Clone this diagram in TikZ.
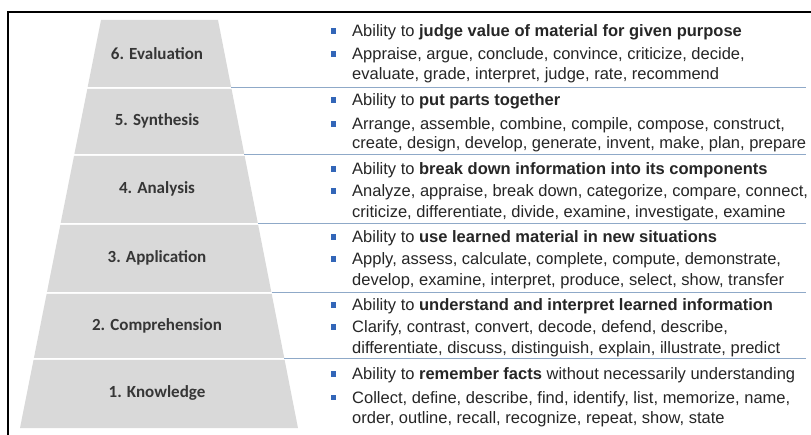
\documentclass[tikz,border=0pt]{standalone}
\usepackage{fontspec}
\setmainfont{Liberation Sans}
\newfontfamily\labfont{Carlito}
\definecolor{layerfill}{HTML}{D9D9D9}
\definecolor{labeltext}{HTML}{363636}
\definecolor{bodytext}{HTML}{262626}
\definecolor{sepline}{HTML}{8FA9C8}
\definecolor{bulletblue}{HTML}{3366B8}
\begin{document}
\begin{tikzpicture}[x=1pt,y=-1pt,
  levellabel/.style={font=\labfont\bfseries\fontsize{17}{19}\selectfont, text=labeltext, inner sep=0pt},
  bodyline/.style={anchor=base west, font=\fontsize{16.5}{18}\selectfont, text=bodytext, inner sep=0pt},
  bulletsq/.style={fill=bulletblue},
  sepstyle/.style={draw=sepline, line width=1pt}]
\useasboundingbox (0,0) rectangle (811,435);
\fill[white] (0,0) rectangle (811,435);
% outer frame (top and left edges)
\draw[line width=1.4pt] (8,435) -- (8,12) -- (811,12);

% pyramid layers
\foreach \t/\b in {20/87, 89/154, 156/223, 225/292, 294/358, 360/428} {
  \fill[layerfill] ({101-0.1985*(\t-20)},\t) -- ({218+0.196*(\t-20)},\t)
    -- ({218+0.196*(\b-20)},\b) -- ({101-0.1985*(\b-20)},\b) -- cycle;
}
% separators running right from the pyramid edge
\foreach \y in {88,155,224,293,359} {
  \coordinate (s\y) at ({218+0.196*(\y-20)},\y);
  \coordinate (e\y) at (806,\y);
  \draw[sepstyle] (s\y) -- (e\y);
}

% level labels
\node[levellabel] (l6) at (157,54) {6. Evaluation};
\node[levellabel] (l5) at (157,121) {5. Synthesis};
\node[levellabel] (l4) at (157,189) {4. Analysis};
\node[levellabel] (l3) at (157,258) {3. Application};
\node[levellabel] (l2) at (157,326) {2. Comprehension};
\node[levellabel] (l1) at (157,393) {1. Knowledge};

% bullets
\foreach \c in {31,54,100,124,169,191,237,259,305,327,374,397} {
  \fill[bulletsq] (330.5,\c-2.5) rectangle ++(5.5,5.5);
}

% descriptions
\node[bodyline] (t6a) at (352,37) {Ability to \textbf{judge value of material for given purpose}};
\node[bodyline] (t6b) at (352,60) {Appraise, argue, conclude, convince, criticize, decide,};
\node[bodyline] (t6c) at (352,80) {evaluate, grade, interpret, judge, rate, recommend};

\node[bodyline] (t5a) at (352,106) {Ability to \textbf{put parts together}};
\node[bodyline] (t5b) at (352,130) {Arrange, assemble, combine, compile, compose, construct,};
\node[bodyline] (t5c) at (352,149) {create, design, develop, generate, invent, make, plan, prepare};

\node[bodyline] (t4a) at (352,175) {Ability to \textbf{break down information into its components}};
\node[bodyline] (t4b) at (352,197) {Analyze, appraise, break down, categorize, compare, connect,};
\node[bodyline] (t4c) at (352,218) {criticize, differentiate, divide, examine, investigate, examine};

\node[bodyline] (t3a) at (352,243) {Ability to \textbf{use learned material in new situations}};
\node[bodyline] (t3b) at (352,265) {Apply, assess, calculate, complete, compute, demonstrate,};
\node[bodyline] (t3c) at (352,286) {develop, examine, interpret, produce, select, show, transfer};

\node[bodyline] (t2a) at (352,311) {Ability to \textbf{understand and interpret learned information}};
\node[bodyline] (t2b) at (352,333) {Clarify, contrast, convert, decode, defend, describe,};
\node[bodyline] (t2c) at (352,354) {differentiate, discuss, distinguish, explain, illustrate, predict};

\node[bodyline] (t1a) at (352,380) {Ability to \textbf{remember facts} without necessarily understanding};
\node[bodyline] (t1b) at (352,403) {Collect, define, describe, find, identify, list, memorize, name,};
\node[bodyline] (t1c) at (352,423) {order, outline, recall, recognize, repeat, show, state};
\end{tikzpicture}
\end{document}
